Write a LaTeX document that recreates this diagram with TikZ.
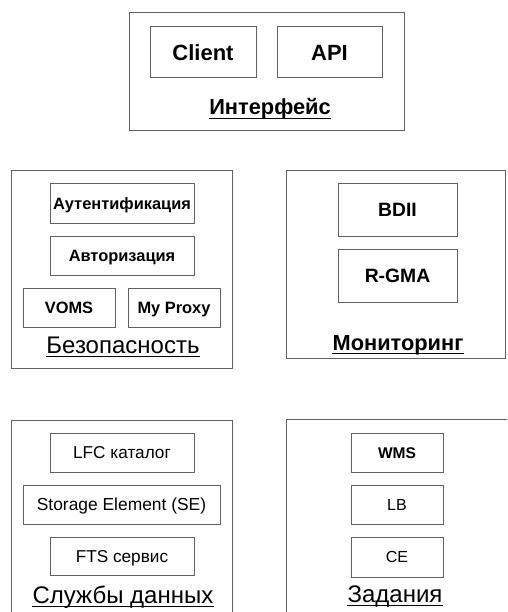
\documentclass[tikz,border=0pt]{standalone}
\usepackage{fontspec}
\setmainfont{Liberation Sans}
\begin{document}
\begin{tikzpicture}[x=1pt,y=-1pt,
  frame/.style={draw=black!62,line width=1pt,inner sep=0pt},
  inbox/.style={draw=black!62,line width=1pt,inner sep=0pt,text depth=0pt},
  ib/.style={inbox,font=\bfseries\fontsize{#1}{#1}\selectfont,text height={0.716*#1pt}},
  ir/.style={inbox,font=\fontsize{#1}{#1}\selectfont,text height={0.716*#1pt}},
  head/.style={anchor=base,inner sep=0pt,font=\fontsize{24}{28}\selectfont},
  headb/.style={anchor=base,inner sep=0pt,font=\bfseries\fontsize{21.8}{26}\selectfont},
  uline/.style={line width=1.4pt,black}]
\clip (0,0) rectangle (507,612);
\fill[white] (0,0) rectangle (507,612);
% Interface
\node[frame,minimum width=275,minimum height=118] (iface) at (266.5,72) {};
\node[ib=22,minimum width=106,minimum height=51] (client) at (203,52.5) {Client};
\node[ib=22,minimum width=105,minimum height=51] (api) at (329.5,52.5) {API};
\node[headb] (ifl) at (270,115) {Интерфейс};
\draw[uline] ([yshift=-3.3]ifl.base west) -- ([yshift=-3.3]ifl.base east);
% Security
\node[frame,minimum width=221,minimum height=197] (sec) at (121.5,269.5) {};
\node[ib=16.4,minimum width=144,minimum height=39] (auth) at (122,203.5) {Аутентификация};
\node[ib=16.4,minimum width=144,minimum height=39] (authz) at (122,255.5) {Авторизация};
\node[ib=16.4,minimum width=92,minimum height=39] (voms) at (69,307.5) {VOMS};
\node[ib=16.4,minimum width=92,minimum height=39] (proxy) at (174,307.5) {My Proxy};
\node[head] (secl) at (123,353) {Безопасность};
\draw[uline] ([yshift=-3.5]secl.base west) -- ([yshift=-3.5]secl.base east);
% Monitoring
\node[frame,minimum width=219,minimum height=187] (mon) at (395.5,264.5) {};
\node[ib=19.3,minimum width=119,minimum height=52] (bdii) at (397.5,210) {BDII};
\node[ib=19.3,minimum width=119,minimum height=53] (rgma) at (397.5,275.5) {R-GMA};
\node[headb] (monl) at (398,350) {Мониторинг};
\draw[uline] ([yshift=-3.3]monl.base west) -- ([yshift=-3.3]monl.base east);
% Data services
\node[frame,minimum width=221,minimum height=212] (data) at (121.5,526) {};
\node[ir=17.2,minimum width=144,minimum height=39] (lfc) at (122,452.5) {LFC каталог};
\node[ir=17.4,minimum width=197,minimum height=39] (se) at (121.5,504.5) {Storage Element (SE)};
\node[ir=17.2,minimum width=144,minimum height=38] (fts) at (122,556) {FTS сервис};
\node[head] (datal) at (123,603) {Службы данных};
\draw[uline] ([yshift=-3.5]datal.base west) -- ([yshift=-3.5]datal.base east);
% Jobs
\node[frame,minimum width=228,minimum height=214] (jobs) at (400,526) {};
\node[ib=15.5,minimum width=92,minimum height=39] (wms) at (397,452.5) {WMS};
\node[ir=16,minimum width=92,minimum height=39] (lb) at (397,504.5) {LB};
\node[ir=16,minimum width=92,minimum height=40] (ce) at (397,557) {CE};
\node[head] (jobsl) at (395,602) {Задания};
\draw[uline] ([yshift=-3.5]jobsl.base west) -- ([yshift=-3.5]jobsl.base east);
\end{tikzpicture}
\end{document}
